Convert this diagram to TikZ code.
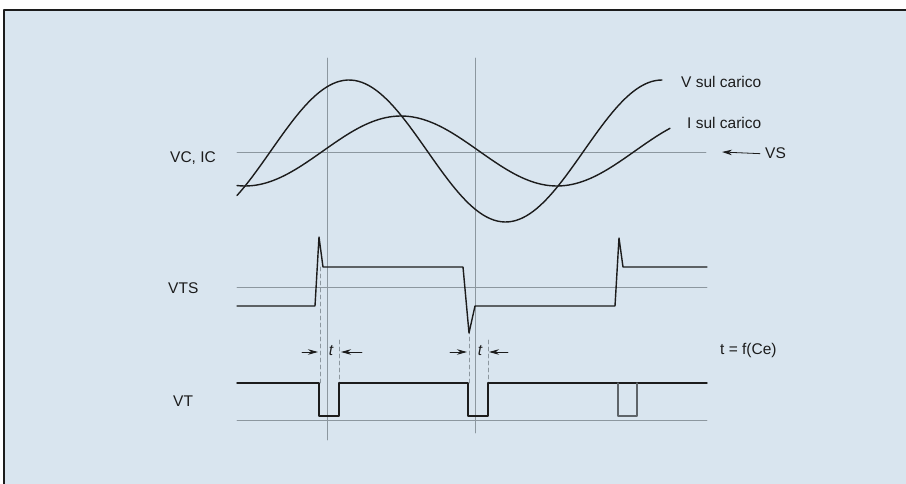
\documentclass[tikz,border=0pt]{standalone}
\usepackage{fontspec}
\setmainfont{Liberation Sans}
\usetikzlibrary{arrows.meta}
\definecolor{paper}{HTML}{D9E5EF}
\definecolor{ink}{HTML}{1C1C1C}
\definecolor{guide}{HTML}{8C979F}
\definecolor{faint}{HTML}{5E6469}
\tikzset{
  wave/.style={ink,line width=1.4pt},
  guideline/.style={guide,line width=0.6pt},
  edgeline/.style={guide,line width=0.6pt,dash pattern=on 4pt off 3pt},
  lbl/.style={inner sep=0pt,anchor=base west,text=ink,font=\fontsize{15.5}{18}\selectfont}
}
\begin{document}
\begin{tikzpicture}[x=1pt,y=-1pt,>={Stealth[length=10pt,width=5.5pt]},line join=round,line cap=round]
	\useasboundingbox (0,0) rectangle (906,484);
	\fill[paper] (4,10) rectangle (906,484);
	\draw[ink,line width=1.6pt] (4,484)--(4,10)--(906,10);
	% guides
	\draw[guideline] (327,58)--(327,440) (475,58)--(475,433);
	\draw[guideline] (237,152)--(706,152);
	\draw[guideline] (237,287)--(707,287) (237,420)--(707,420);
	\draw[edgeline] (320,267)--(320,383) (339,340)--(339,383)
	(469,330)--(469,383) (488,340)--(488,383);
	% V and I on the load
	\draw[wave] plot[domain=237:662,samples=120] (\x,{151-71*cos(1.15016*(\x-349))});
	\draw[wave] plot[domain=237:670,samples=120] (\x,{151+35*cos(1.15385*(\x-557))});
	% VTS
	\draw[wave] (237,306)--(315,306)--(319,237)--(323,267)--(463,267)--(469,333)--(475,306)
	--(615,306)--(619,238)--(623,267)--(707,267);
	% VT
	\draw[wave] (237,383)--(319,383)--(319,416)--(339,416)--(339,383)--(468,383)--(468,416)
	--(488,416)--(488,383)--(707,383);
	\draw[wave,faint] (618,383)--(618,416)--(637,416)--(637,383);
	% labels
	\node[lbl] (vcic) at (170,163) {VC, IC};
	\node[lbl] (vload) at (681,88) {V sul carico};
	\node[lbl] (iload) at (687,129) {I sul carico};
	\node[lbl] (vs) at (765,159) {VS};
	\node[lbl] (vts) at (168,294) {VTS};
	\node[lbl] (vt) at (173,406) {VT};
	\node[lbl] (tfun) at (720,354) {t = f(Ce)};
	\node[lbl,anchor=center] (ta) at (331,351) {\itshape t};
	\node[lbl,anchor=center] (tb) at (480,351) {\itshape t};
	% arrows
	\coordinate (vsend) at (722,152);
	\draw[ink,line width=0.8pt,->] ([xshift=-5pt]vs.west)--(vsend);
	\coordinate (ta1) at (302,352); \coordinate (ta2) at (318,352);
	\coordinate (ta3) at (362,352); \coordinate (ta4) at (341,352);
	\coordinate (tb1) at (450,352); \coordinate (tb2) at (467,352);
	\coordinate (tb3) at (508,352); \coordinate (tb4) at (489,352);
	\draw[ink,line width=0.8pt,->] (ta1)--(ta2);
	\draw[ink,line width=0.8pt,->] (ta3)--(ta4);
	\draw[ink,line width=0.8pt,->] (tb1)--(tb2);
	\draw[ink,line width=0.8pt,->] (tb3)--(tb4);
\end{tikzpicture}
\end{document}
